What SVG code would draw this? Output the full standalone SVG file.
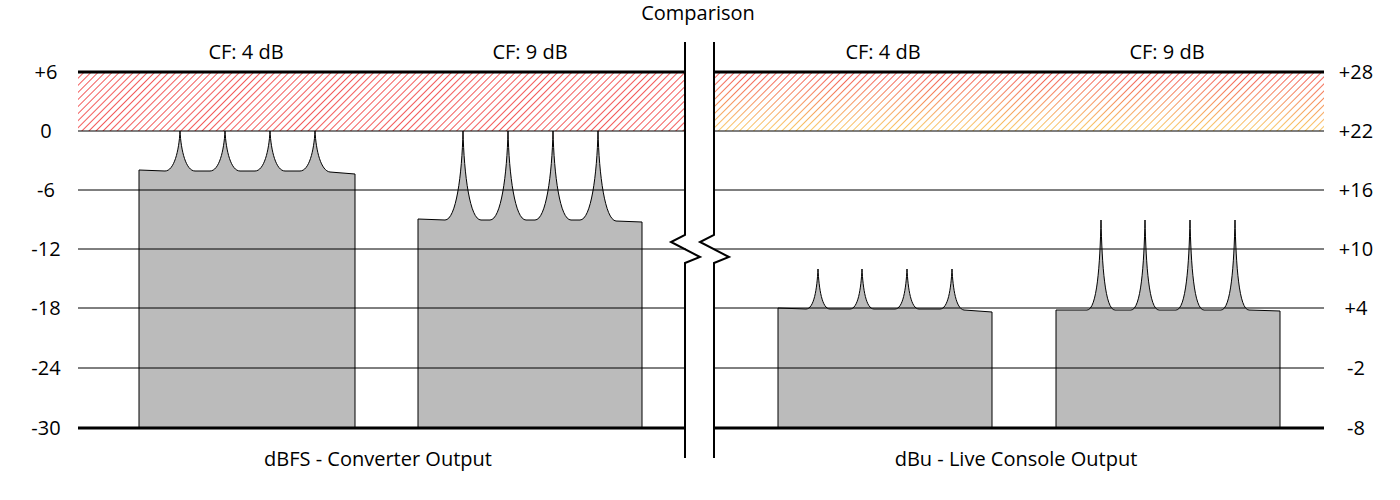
<svg xmlns="http://www.w3.org/2000/svg" width="1400" height="500" viewBox="0 0 1400 500">
<style>
text{font-family:"Open Sans","DejaVu Sans",sans-serif;font-size:20px;fill:#000}
.l{text-anchor:end}.m{text-anchor:middle}.r{text-anchor:end}
.g{stroke:#000;stroke-width:1}
.t{stroke:#000;stroke-width:3}
.bar{fill:#bbb;stroke:#000;stroke-width:1}
</style>
<defs>
<pattern id="hr" width="5" height="5" patternUnits="userSpaceOnUse" patternTransform="rotate(45)">
<line x1="0" y1="0" x2="0" y2="5" stroke="#f03030" stroke-width="1.6"/>
</pattern>
<pattern id="hw" width="5" height="5" patternUnits="userSpaceOnUse" patternTransform="rotate(45)">
<line x1="0" y1="0" x2="0" y2="5" stroke="#fff" stroke-width="1.6"/>
</pattern>
<mask id="mk"><rect x="714" y="72" width="610" height="59" fill="url(#hw)"/></mask>
<linearGradient id="og" x1="0" y1="0" x2="0" y2="1"><stop offset="0" stop-color="#f03030"/><stop offset="1" stop-color="#f8c040"/></linearGradient>
</defs>
<g id="hatch">
<rect x="78" y="72" width="608" height="59" fill="url(#hr)"/>
<rect x="714" y="72" width="610" height="59" fill="url(#og)" mask="url(#mk)"/>
</g>
<g id="bars">
<path class="bar" d="M139 428 V170 L165 171 C174 171 179 151 180 131 C181 151 186 171 195 171 L210 171 C219 171 224 151 225 131 C226 151 231 171 240 171 L255 171 C264 171 269 151 270 131 C271 151 276 171 285 171 L300 171 C309 171 314 151 315 131 C316 151 321 171 330 172 L355 174 V428 Z"/>
<path class="bar" d="M418 428 V219 L445 220 C456 220 462 175 463 131 C464 175 470 220 481 220 L490 220 C501 220 507 175 508 131 C509 175 515 220 526 220 L535 220 C546 220 552 175 553 131 C554 175 560 220 571 220 L580 220 C591 220 597 175 598 131 C599 175 605 220 616 221 L642 222 V428 Z"/>
<path class="bar" d="M778 428 V308 L806 309 C814 309 817 289 818 269 C819 289 822 309 830 309 L850 309 C858 309 861 289 862 269 C863 289 866 309 874 309 L895 309 C903 309 906 289 907 269 C908 289 911 309 919 309 L940 309 C948 309 951 289 952 269 C953 289 956 309 964 310 L992 312 V428 Z"/>
<path class="bar" d="M1056 428 V310 L1087 310 C1097 310 1100 265 1101 220 C1102 265 1105 310 1115 310 L1131 310 C1141 310 1144 265 1145 220 C1146 265 1149 310 1159 310 L1176 310 C1186 310 1189 265 1190 220 C1191 265 1194 310 1204 310 L1221 310 C1231 310 1234 265 1235 220 C1236 265 1239 310 1249 310 L1280 311 V428 Z"/>
</g>
<g id="grid" fill="none">
<line class="t" x1="78" y1="72" x2="686" y2="72"/>
<line class="t" x1="714" y1="72" x2="1324" y2="72"/>
<line class="g" x1="78" y1="131" x2="686" y2="131"/>
<line class="g" x1="714" y1="131" x2="1324" y2="131"/>
<line class="g" x1="78" y1="190" x2="686" y2="190"/>
<line class="g" x1="714" y1="190" x2="1324" y2="190"/>
<line class="g" x1="78" y1="249" x2="686" y2="249"/>
<line class="g" x1="714" y1="249" x2="1324" y2="249"/>
<line class="g" x1="78" y1="308" x2="686" y2="308"/>
<line class="g" x1="714" y1="308" x2="1324" y2="308"/>
<line class="g" x1="78" y1="368" x2="686" y2="368"/>
<line class="g" x1="714" y1="368" x2="1324" y2="368"/>
<line class="t" x1="78" y1="428" x2="686" y2="428"/>
<line class="t" x1="714" y1="428" x2="1324" y2="428"/>
<path stroke="#000" stroke-width="2" d="M685 42 V235 L671 242 L700 257 L685 263 V458"/>
<path stroke="#000" stroke-width="2" d="M714 42 V235 L700 242 L729 257 L714 263 V458"/>
</g>
<g id="labels">
<text class="m" x="698" y="20">Comparison</text>
<text class="m" x="246" y="59">CF: 4 dB</text>
<text class="m" x="530" y="59">CF: 9 dB</text>
<text class="m" x="883" y="59">CF: 4 dB</text>
<text class="m" x="1167" y="59">CF: 9 dB</text>
<text class="m" x="378" y="466">dBFS - Converter Output</text>
<text class="m" x="1016" y="466">dBu - Live Console Output</text>
<g text-anchor="middle">
<text x="46" y="79">+6</text><text x="46" y="138">0</text><text x="46" y="197">-6</text><text x="46" y="256">-12</text><text x="46" y="315">-18</text><text x="46" y="375">-24</text><text x="46" y="435">-30</text>
<text x="1356" y="79">+28</text><text x="1356" y="138">+22</text><text x="1356" y="197">+16</text><text x="1356" y="256">+10</text><text x="1356" y="315">+4</text><text x="1356" y="375">-2</text><text x="1356" y="435">-8</text>
</g>
</g>
</svg>
